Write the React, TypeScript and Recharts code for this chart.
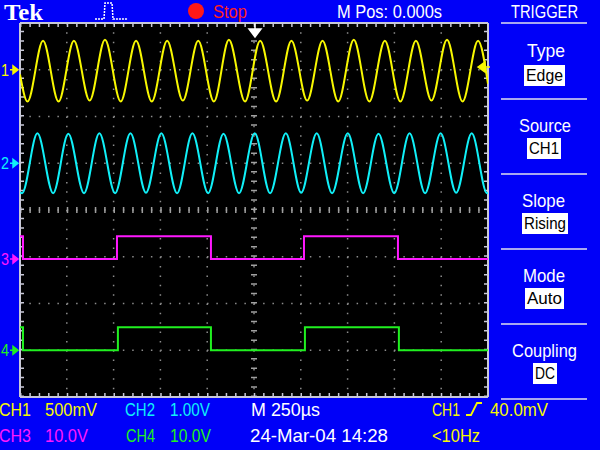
import React from 'react'
import { LineChart, Line, XAxis, YAxis, CartesianGrid, ReferenceLine } from 'recharts'

// time base 250 us/div, trigger at centre (M Pos 0.000s)
const timeTicks = [-1250, -1000, -750, -500, -250, 0, 250, 500, 750, 1000, 1250]
const divTicks = [-4, -3, -2, -1, 0, 1, 2, 3, 4]

// CH1 500mV/div - turning points of the yellow trace (us, V)
const ch1Time = [
  -1250, -1210, -1127, -1044, -962, -878, -796, -712, -630, -546, -464, -380, -298, -214, -134, -48,
  33, 118, 200, 284, 366, 450, 533, 616, 699, 782, 865, 948, 1031, 1114, 1197, 1250
]
const ch1Volts = [
  -0.05, -0.34, 0.31, -0.34, 0.31, -0.33, 0.32, -0.34, 0.31, -0.34, 0.31, -0.33, 0.31, -0.34, 0.32, -0.34,
  0.31, -0.34, 0.31, -0.33, 0.31, -0.34, 0.32, -0.34, 0.31, -0.34, 0.31, -0.33, 0.32, -0.34, 0.31, -0.15
]

// CH2 1.00V/div - cyan trace
const ch2Time = [
  -1250, -1239, -1157, -1073, -992, -908, -826, -742, -660, -577, -495, -411, -329, -245, -163, -80,
  4, 86, 170, 252, 335, 417, 501, 583, 665, 749, 831, 914, 997, 1080, 1163, 1245, 1250
]
const ch2Volts = [
  -0.62, -0.64, 0.64, -0.64, 0.63, -0.64, 0.64, -0.64, 0.64, -0.63, 0.64, -0.64, 0.64, -0.64, 0.63, -0.64,
  0.64, -0.64, 0.64, -0.63, 0.64, -0.64, 0.64, -0.64, 0.63, -0.64, 0.64, -0.64, 0.64, -0.63, 0.64, -0.64, -0.63
]

// CH3 / CH4 10.0V/div - TTL square waves (edges in us)
const ch3Time = [-1250, -1234, -732, -230, 267, 769, 1250]
const ch3Volts = [4.9, 0, 4.9, 0, 4.9, 0, 0]
const ch4Time = [-1250, -1234, -727, -230, 272, 774, 1250]
const ch4Volts = [4.9, 0, 4.9, 0, 4.9, 0, 0]

// volts per division and ground marker (in divisions from centre)
const ch1Scale = 0.5
const ch2Scale = 1
const ch3Scale = 10
const ch4Scale = 10
const ch1Pos = 3
const ch2Pos = 1
const ch3Pos = -1.05
const ch4Pos = -3

const toDivs = (time: number[], volts: number[], scale: number, pos: number) =>
  time.map((t, i) => ({ t, y: pos + volts[i] / scale }))

const ch1Data = toDivs(ch1Time, ch1Volts, ch1Scale, ch1Pos)
const ch2Data = toDivs(ch2Time, ch2Volts, ch2Scale, ch2Pos)
const ch3Data = toDivs(ch3Time, ch3Volts, ch3Scale, ch3Pos)
const ch4Data = toDivs(ch4Time, ch4Volts, ch4Scale, ch4Pos)

const YELLOW = '#f8f800'
const CYAN = '#10f0f8'
const MAGENTA = '#ff18ff'
const GREEN = '#20f020'
const BLUE = '#0000f8'
const MENU_LINE = '#a8a8f0'

const PLOT = { left: 20, top: 23, width: 468, height: 374 }
const markerY = (pos: number) => PLOT.top + PLOT.height / 2 - (pos * PLOT.height) / 8

const font = 'Liberation Sans, Arial, sans-serif'

const Txt = (p: { x: number; y: number; len: number; fill?: string; size?: number; children: string }) => (
  <text
    x={p.x}
    y={p.y}
    fill={p.fill || '#fff'}
    fontFamily={font}
    fontSize={p.size || 19}
    textLength={p.len}
    lengthAdjust="spacingAndGlyphs"
  >
    {p.children}
  </text>
)

const Marker = ({ n, pos, color }: { n: string; pos: number; color: string }) => {
  const y = markerY(pos)
  return (
    <g>
      <text x={1} y={y + 6} fill={color} fontFamily={font} fontSize={16} textLength={8} lengthAdjust="spacingAndGlyphs">
        {n}
      </text>
      <path d={`M10 ${y} H14 M13 ${y - 4} L18 ${y} L13 ${y + 4} Z`} stroke={color} strokeWidth={1.5} fill={color} />
    </g>
  )
}

const MenuBox = ({ x, y, w, label }: { x: number; y: number; w: number; label: string }) => (
  <g>
    <rect x={x} y={y} width={w} height={21} fill="#fff" />
    <text
      x={x + 2}
      y={y + 16}
      fill="#000"
      fontFamily={font}
      fontSize={17}
      textLength={w - 4}
      lengthAdjust="spacingAndGlyphs"
    >
      {label}
    </text>
  </g>
)

export default function App() {
  return (
    <div style={{ position: 'absolute', left: 0, top: 0, width: 600, height: 450, background: BLUE, overflow: 'hidden' }}>
      <LineChart
        width={600}
        height={450}
        margin={{ top: PLOT.top, right: 600 - PLOT.left - PLOT.width, bottom: 450 - PLOT.top - PLOT.height, left: PLOT.left }}
      >
        <XAxis type="number" dataKey="t" domain={[-1250, 1250]} ticks={timeTicks} hide allowDataOverflow />
        <YAxis type="number" dataKey="y" domain={[-4, 4]} ticks={divTicks} hide allowDataOverflow />
        <CartesianGrid fill="#000" stroke="#8c8c8c" strokeWidth={1.5} strokeDasharray="1.5 7.85" />
        {/* centre crosshair with minor ticks */}
        <ReferenceLine x={0} stroke="#a0a0a0" strokeWidth={6} strokeDasharray="1.5 7.85" />
        <ReferenceLine y={0} stroke="#a0a0a0" strokeWidth={6} strokeDasharray="1.5 7.85" />
        {/* graticule border + inward ticks */}
        <ReferenceLine x={-1250} stroke="#c8c8d8" strokeWidth={8} strokeDasharray="1.5 7.85" ifOverflow="hidden" />
        <ReferenceLine x={1250} stroke="#c8c8d8" strokeWidth={8} strokeDasharray="1.5 7.85" ifOverflow="hidden" />
        <ReferenceLine y={-4} stroke="#c8c8d8" strokeWidth={8} strokeDasharray="1.5 7.85" ifOverflow="hidden" />
        <ReferenceLine y={4} stroke="#c8c8d8" strokeWidth={8} strokeDasharray="1.5 7.85" ifOverflow="hidden" />
        <ReferenceLine x={-1250} stroke="#c8c8d8" strokeWidth={2} />
        <ReferenceLine x={1250} stroke="#c8c8d8" strokeWidth={2} />
        <ReferenceLine y={-4} stroke="#c8c8d8" strokeWidth={2} />
        <ReferenceLine y={4} stroke="#c8c8d8" strokeWidth={2} />
        <Line data={ch4Data} dataKey="y" type="stepAfter" stroke={GREEN} strokeWidth={2} dot={false} isAnimationActive={false} />
        <Line data={ch3Data} dataKey="y" type="stepAfter" stroke={MAGENTA} strokeWidth={2} dot={false} isAnimationActive={false} />
        <Line data={ch2Data} dataKey="y" type="monotone" stroke={CYAN} strokeWidth={2} dot={false} isAnimationActive={false} />
        <Line data={ch1Data} dataKey="y" type="monotone" stroke={YELLOW} strokeWidth={2} dot={false} isAnimationActive={false} />
      </LineChart>

      <svg width={600} height={450} style={{ position: 'absolute', left: 0, top: 0, pointerEvents: 'none' }}>
        {/* top status bar */}
        <text x={4} y={20} fill="#fff" fontFamily="Liberation Serif, serif" fontWeight="bold" fontSize={23} textLength={39} lengthAdjust="spacingAndGlyphs">
          Tek
        </text>
        <polyline points="95,19 104,19 105,3 112,3 113,19 128,19" fill="none" stroke="#fff" strokeWidth={1.5} strokeDasharray="2 1" />
        <circle cx={196} cy={11} r={8} fill="#ff1818" />
        <Txt x={213} y={18} len={34} fill="#ff2020">Stop</Txt>
        <Txt x={337} y={18} len={105}>M Pos: 0.000s</Txt>
        <Txt x={511} y={18} len={67}>TRIGGER</Txt>

        {/* trigger position and level markers */}
        <path d="M255 23 V30 M249 29 L261 29 L255 37 Z" stroke="#fff" strokeWidth={1.5} fill="#fff" />
        <path d="M478 67 L485 62 L485 72 Z M485 67 H490" stroke={YELLOW} strokeWidth={1.5} fill={YELLOW} />

        {/* channel ground markers */}
        <Marker n="1" pos={ch1Pos} color={YELLOW} />
        <Marker n="2" pos={ch2Pos} color={CYAN} />
        <Marker n="3" pos={ch3Pos} color={MAGENTA} />
        <Marker n="4" pos={ch4Pos} color={GREEN} />

        {/* trigger menu */}
        {[23, 99, 174, 249, 324, 399].map((y) => (
          <line key={y} x1={501} x2={587} y1={y} y2={y} stroke={MENU_LINE} strokeWidth={2} />
        ))}
        <Txt x={527} y={57} len={38}>Type</Txt>
        <MenuBox x={524} y={65} w={41} label="Edge" />
        <Txt x={519} y={132} len={52}>Source</Txt>
        <MenuBox x={527} y={138} w={34} label="CH1" />
        <Txt x={522} y={207} len={43}>Slope</Txt>
        <MenuBox x={522} y={213} w={46} label="Rising" />
        <Txt x={523} y={282} len={42}>Mode</Txt>
        <MenuBox x={525} y={288} w={39} label="Auto" />
        <Txt x={512} y={357} len={65}>Coupling</Txt>
        <MenuBox x={533} y={363} w={24} label="DC" />

        {/* bottom readouts */}
        <Txt x={-1} y={416} len={32} fill={YELLOW}>CH1</Txt>
        <Txt x={45} y={416} len={52} fill={YELLOW}>500mV</Txt>
        <Txt x={125} y={416} len={30} fill={CYAN}>CH2</Txt>
        <Txt x={170} y={416} len={40} fill={CYAN}>1.00V</Txt>
        <Txt x={251} y={416} len={69}>M 250µs</Txt>
        <Txt x={432} y={416} len={28} fill={YELLOW}>CH1</Txt>
        <polyline points="466,415 471,415 477,403 482,403" fill="none" stroke={YELLOW} strokeWidth={1.8} />
        <Txt x={490} y={416} len={58} fill={YELLOW}>40.0mV</Txt>

        <Txt x={-1} y={442} len={32} fill={MAGENTA}>CH3</Txt>
        <Txt x={45} y={442} len={43} fill={MAGENTA}>10.0V</Txt>
        <Txt x={126} y={442} len={29} fill={GREEN}>CH4</Txt>
        <Txt x={170} y={442} len={41} fill={GREEN}>10.0V</Txt>
        <Txt x={250} y={442} len={138}>24-Mar-04 14:28</Txt>
        <Txt x={432} y={442} len={48} fill={YELLOW}>&lt;10Hz</Txt>
      </svg>
    </div>
  )
}
